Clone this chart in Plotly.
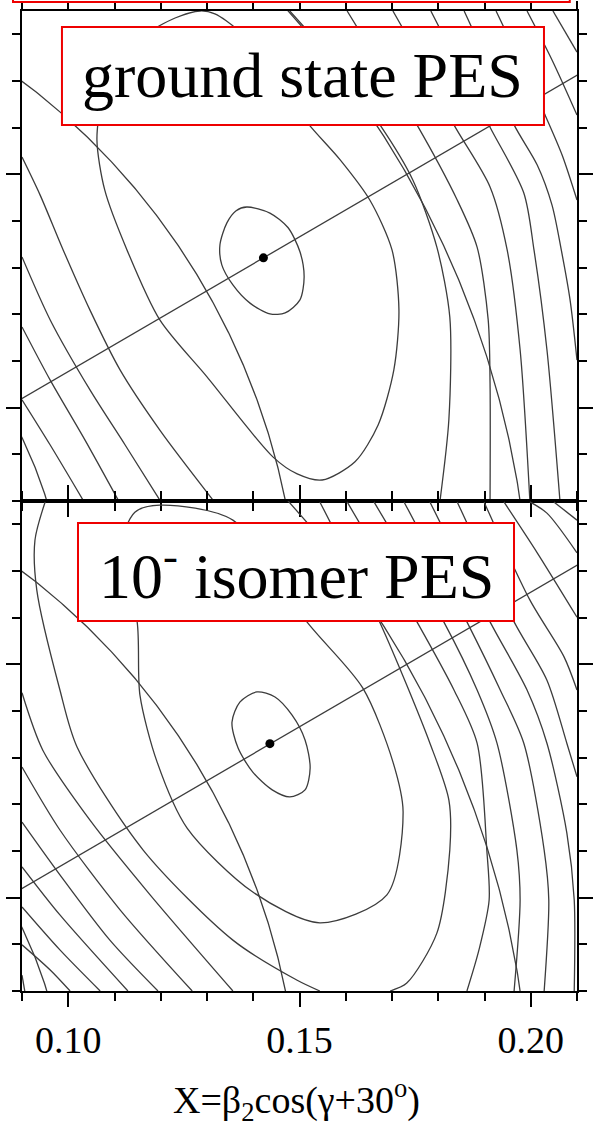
import numpy as np
import plotly.graph_objects as go
from plotly.subplots import make_subplots

# ---- axes -------------------------------------------------------------
x_range = [0.09, 0.21]
y_range = [0.03, 0.135]
x_major = [0.10, 0.15, 0.20]
y_major = [0.05, 0.10]

# ---- polar grid: beta circles and gamma = 0 ray ----------------------
beta_circles = [0.10, 0.15, 0.20, 0.25]
gamma_rays_deg = [0.0]

# ---- equilibrium points (X, Y) ---------------------------------------
ground_min_x, ground_min_y = [0.1422], [0.0821]
isomer_min_x, isomer_min_y = [0.1436], [0.0830]

# ---- ground-state PES contour lines ------------------------------------
ground_x = [
    [.1386, .1436, .1475, .1501, .1510, .1501, .1469, .1436, .1393, .1356, .1332, .1328, .1343, .1363, .1386],
    [.1062, .1073, .1108, .1166, .1231, .1285, .1317, .1367, .1441, .1516, .1588, .1652, .1700, .1715, .1704,
     .1670, .1620, .1549, .1495, .1443, .1300, .1198, .1127, .1079, .1062],
    [.0900, .0939, .0989, .1047, .1112, .1198, .1313],
    [.0900, .0961, .1047, .1123, .1198],
    [.0900, .0961, .1036, .1108],
    [.0900, .0961, .1032],
    [.1479, .1549, .1614, .1674, .1745, .1797, .1825, .1823, .1804],
    [.1603, .1681, .1754, .1841, .1884, .1908, .1912, .1912],
    [.1702, .1771, .1834, .1912, .1949, .1977, .1998],
    [.1784, .1849, .1912, .1985, .2007, .2035, .2063],
    [.1856, .1912, .1964, .2014, .2046, .2066, .2085, .2100],
    [.1925, .1981, .2031, .2068, .2100],
    [.1992, .2046, .2100],
    [.2048, .2100],
]
ground_y = [
    [.0930, .0917, .0886, .0834, .0780, .0731, .0703, .0701, .0724, .0763, .0806, .0849, .0896, .0922, .0930],
    [.1074, .1159, .1241, .1299, .1335, .1350, .1344, .1309, .1219, .1112, .1031, .0945, .0838, .0709, .0581,
     .0463, .0384, .0345, .0358, .0394, .0566, .0688, .0838, .0966, .1074],
    [.1037, .0956, .0838, .0709, .0581, .0452, .0302],
    [.0823, .0688, .0538, .0420, .0302],
    [.0673, .0559, .0431, .0302],
    [.0517, .0420, .0302],
    [.1350, .1271, .1185, .1106, .0988, .0844, .0694, .0475, .0302],
    [.1350, .1224, .1106, .0945, .0844, .0688, .0553, .0302],
    [.1350, .1228, .1106, .0973, .0838, .0624, .0302],
    [.1350, .1224, .1101, .0960, .0838, .0624, .0302],
    [.1350, .1228, .1106, .1020, .0934, .0838, .0731, .0602],
    [.1350, .1234, .1127, .1041, .0945],
    [.1350, .1245, .1127],
    [.1350, .1262],
]

# ---- 10- isomer PES contour lines ---------------------------------------
isomer_x = [
    [.1408, .1447, .1484, .1512, .1523, .1512, .1479, .1441, .1399, .1367, .1354, .1371, .1408],
    [.1198, .1356, .1516, .1637, .1702, .1724, .1689, .1544, .1399, .1257, .1192, .1155, .1149, .1112, .1144, .1198],
    [.0950, .0928, .0932, .0982, .1019, .1162, .1356, .1495, .1544],
    [.1544, .1674, .1782, .1823, .1825, .1797, .1732, .1696],
    [.1603, .1754, .1834, .1884, .1905, .1910, .1888, .1862],
    [.1661, .1812, .1884, .1927, .1970, .1977, .1964],
    [.1726, .1862, .1934, .1985, .2029, .2039, .2029],
    [.1782, .1912, .1992, .2035, .2078, .2094, .2094],
    [.1841, .1964, .2035, .2078, .2100],
    [.1899, .1998, .2072, .2100],
    [.1942, .2014, .2100],
    [.1998, .2035, .2100],
    [.2050, .2100],
    [.0900, .0945, .1047, .1177, .1356],
    [.0900, .0982, .1112, .1268],
    [.0900, .0982, .1090, .1194],
    [.0900, .0982, .1129],
    [.0900, .0982, .1069],
    [.0900, .0961, .1004],
    [.0900, .0906],
]
isomer_y = [
    [.0941, .0930, .0891, .0838, .0778, .0731, .0716, .0731, .0769, .0821, .0876, .0919, .0941],
    [.1341, .1309, .1091, .0949, .0791, .0684, .0506, .0446, .0512, .0649, .0791, .0934, .1091, .1245, .1326, .1341],
    [.1348, .1266, .1159, .0945, .0823, .0602, .0409, .0323, .0300],
    [.1348, .1089, .0831, .0709, .0602, .0424, .0317, .0300],
    [.1348, .1091, .0945, .0831, .0602, .0495, .0388, .0300],
    [.1348, .1091, .0945, .0831, .0602, .0495, .0300],
    [.1348, .1091, .0945, .0831, .0602, .0495, .0300],
    [.1348, .1091, .0945, .0831, .0639, .0495, .0300],
    [.1348, .1091, .0966, .0831, .0759],
    [.1348, .1138, .1016, .0945],
    [.1348, .1239, .1101],
    [.1348, .1324, .1239],
    [.1348, .1309],
    [.0939, .0816, .0666, .0506, .0300],
    [.0780, .0645, .0474, .0300],
    [.0662, .0549, .0409, .0300],
    [.0566, .0463, .0300],
    [.0480, .0388, .0300],
    [.0399, .0345, .0300],
    [.0334, .0300],
]

panel_labels = ["ground state PES", "10<sup>-</sup> isomer PES"]
x_title = "X=β<sub>2</sub>cos(γ+30<sup>o</sup>)"

SERIF = "Liberation Serif, Times New Roman, serif"
LINE = dict(color="#3c3c3c", width=1.3)

fig = make_subplots(rows=2, cols=1, vertical_spacing=0)

panels = [
    (1, ground_x, ground_y, ground_min_x, ground_min_y),
    (2, isomer_x, isomer_y, isomer_min_x, isomer_min_y),
]
for row, cx, cy, mx, my in panels:
    # energy contours
    for xs, ys in zip(cx, cy):
        fig.add_trace(go.Scatter(x=xs, y=ys, mode="lines",
                                 line=dict(shape="spline", smoothing=0.8, **LINE),
                                 hoverinfo="skip", showlegend=False), row=row, col=1)
    # constant-beta circles
    for b in beta_circles:
        th = np.linspace(0, np.pi / 2, 400)
        fig.add_trace(go.Scatter(x=b * np.cos(th), y=b * np.sin(th), mode="lines", line=LINE,
                                 hoverinfo="skip", showlegend=False), row=row, col=1)
    # gamma rays through the origin
    for g in gamma_rays_deg:
        a = np.radians(g + 30.0)
        r = np.array([0.0, 0.4])
        fig.add_trace(go.Scatter(x=r * np.cos(a), y=r * np.sin(a), mode="lines", line=LINE,
                                 hoverinfo="skip", showlegend=False), row=row, col=1)
    # minimum
    fig.add_trace(go.Scatter(x=mx, y=my, mode="markers", marker=dict(color="black", size=9),
                             hoverinfo="skip", showlegend=False), row=row, col=1)

axis_common = dict(
    showgrid=False, zeroline=False, showline=True, linewidth=2, linecolor="black",
    mirror="allticks", ticks="outside", ticklen=14, tickwidth=2, tickcolor="black",
    automargin=False,
)
minor_ticks = dict(dtick=0.01, tick0=0.0, ticklen=8, tickwidth=1.5, tickcolor="black", ticks="outside")
for row in (1, 2):
    fig.update_xaxes(
        **axis_common, range=x_range, tickvals=x_major, minor=minor_ticks,
        showticklabels=(row == 2), tickformat=".2f",
        tickfont=dict(family=SERIF, size=38, color="black"),
        row=row, col=1,
    )
    fig.update_yaxes(
        **axis_common, range=y_range, tickvals=y_major, minor=minor_ticks,
        showticklabels=False, row=row, col=1,
    )

fig.update_layout(
    width=597, height=1138,
    margin=dict(l=22, r=20, t=11, b=147, autoexpand=False),
    paper_bgcolor="white", plot_bgcolor="white",
    xaxis=dict(domain=[0, 1]), xaxis2=dict(domain=[0, 1]),
    yaxis=dict(domain=[0.5, 1.0]), yaxis2=dict(domain=[0.0, 0.5]),
)

RED = "#ee0000"
# label frames
fig.add_shape(type="rect", xref="paper", yref="paper", x0=0.072, x1=0.9405, y0=0.8837, y1=0.9837,
              line=dict(color=RED, width=2), fillcolor="white", layer="above")
fig.add_shape(type="rect", xref="paper", yref="paper", x0=0.1009, x1=0.8865, y0=0.3776, y1=0.4776,
              line=dict(color=RED, width=2), fillcolor="white", layer="above")
# frame of the panel above, only its lower edge is in view
fig.add_shape(type="rect", xref="paper", yref="paper", x0=-0.0162, x1=0.987, y0=1.0092, y1=1.06,
              line=dict(color=RED, width=2), fillcolor="white", layer="above")

fig.add_annotation(text=panel_labels[0], xref="paper", yref="paper", x=0.506, y=0.9337,
                   xanchor="center", yanchor="middle",
                   showarrow=False, font=dict(family=SERIF, size=64, color="black"))
fig.add_annotation(text=panel_labels[1], xref="paper", yref="paper", x=0.4937, y=0.4276,
                   xanchor="center", yanchor="middle",
                   showarrow=False, font=dict(family=SERIF, size=64, color="black"))
fig.add_annotation(text=x_title, xref="paper", yref="paper", x=0.495, y=-0.111,
                   xanchor="center", yanchor="middle",
                   showarrow=False, font=dict(family=SERIF, size=38, color="black"))

fig.write_html("out.html")
